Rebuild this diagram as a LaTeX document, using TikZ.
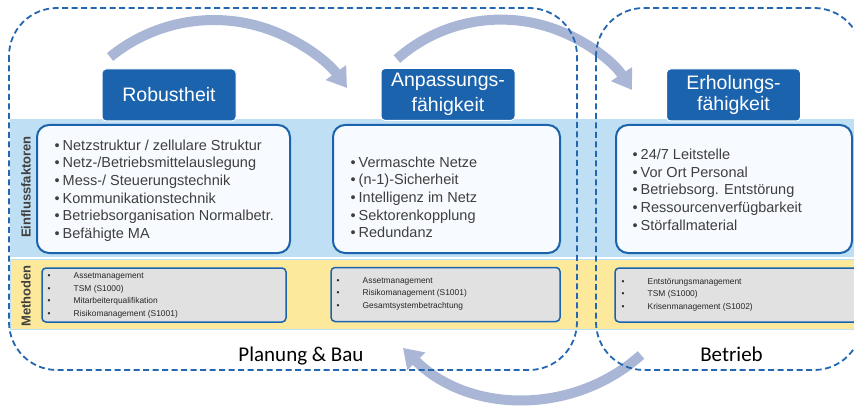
\documentclass[tikz,border=0pt]{standalone}
\usepackage{fontspec}
\setmainfont{Liberation Sans}
\newfontfamily\calibri{Carlito}
\usepackage{xcolor}
\usepackage{tikz}
\usetikzlibrary{positioning,arrows.meta,calc}
\definecolor{titel}{HTML}{1B63AD}
\definecolor{rahmen}{HTML}{2366B1}
\definecolor{bandblau}{HTML}{BEDFF4}
\definecolor{bandgelb}{HTML}{FDE99C}
\definecolor{kasten}{HTML}{F7FAFE}
\definecolor{methode}{HTML}{E1E1E1}
\definecolor{pfeil}{HTML}{A9B6D6}
\definecolor{ink}{HTML}{3F3F3F}

\tikzset{
  phase/.style={draw=rahmen,line width=1.8pt,dash pattern=on 6pt off 3.5pt,rounded corners=48pt},
  kopf/.style={draw=white,line width=1pt,fill=titel,rounded corners=4pt,text=white,align=center,
    minimum width=134pt,minimum height=52pt,font=\fontsize{19.5}{20.5}\selectfont},
  faktorbox/.style={draw=titel,line width=2pt,fill=kasten,rounded corners=12pt,minimum height=128pt},
  methodbox/.style={draw=titel,line width=1.5pt,fill=methode,rounded corners=4pt,minimum height=54pt},
  liste/.style={text=ink,align=left,inner sep=0pt,anchor=west,font=\fontsize{14.5}{17.6}\selectfont},
  kleinliste/.style={text=black!85,align=left,inner sep=0pt,anchor=west,font=\fontsize{8.4}{12.5}\selectfont},
  seitentitel/.style={text=ink,rotate=90,font=\bfseries\fontsize{13}{15}\selectfont},
  prozesspfeil/.style={draw=pfeil,line width=10pt,-{Triangle[width=24pt,length=19pt]}},
  phasentitel/.style={text=black,anchor=base,font=\calibri\fontsize{21}{25}\selectfont}
}
\newcommand{\fpkt}{\makebox[8pt][l]{\textbullet}}
\newcommand{\mpkt}{\makebox[26pt][l]{\textbullet}}

\begin{document}
\begin{tikzpicture}[x=1pt,y=-1pt]
  \useasboundingbox (0,0) rectangle (854,406);

  % Baender
  \fill[bandblau] (10,119) rectangle (860,256.5);
  \filldraw[fill=bandgelb,draw=bandblau,line width=1pt] (10,259.5) rectangle (860,329);

  % Pfeile
  \coordinate (b1m) at (213.9,184.3);
  \coordinate (b2m) at (501,176.7);
  \coordinate (b3m) at (525.7,226);
  \draw[prozesspfeil] (b1m) ++(-129.2:164.3) arc[start angle=-129.2,end angle=-35.9,radius=164.3];
  \draw[prozesspfeil] (b2m) ++(-131.5:157.1) arc[start angle=-131.5,end angle=-33.5,radius=157.1];
  \draw[prozesspfeil] (b3m) ++(48.2:173) arc[start angle=48.2,end angle=135.2,radius=173];

  % Phasen
  \draw[phase] (9,8) rectangle (577,370);
  \draw[phase] (596,8) rectangle (862,370);

  \node[kopf] (robust) at (169,95) {Robustheit};
  \node[kopf] (anpass) at (448,94.4) {Anpassungs-\\[4.5pt]fähigkeit};
  \node[kopf] (erhol) at (733.5,95) {Erholungs-\\fähigkeit};

  \node[seitentitel] (einfluss) at (26,187) {Einflussfaktoren};
  \node[seitentitel] (methoden) at (26,296) {Methoden};

  % Einflussfaktoren
  \node[faktorbox,minimum width=253pt] (fakt1) at (163.5,189) {};
  \node[faktorbox,minimum width=227pt] (fakt2) at (446.5,189) {};
  \node[faktorbox,minimum width=236pt] (fakt3) at (734,189) {};
  \node[liste] (fakt1text) at (54.5,190.5) {\fpkt Netzstruktur / zellulare Struktur\\
    \fpkt Netz-/Betriebsmittelauslegung\\ \fpkt Mess-/ Steuerungstechnik\\
    \fpkt Kommunikationstechnik\\ \fpkt Betriebsorganisation Normalbetr.\\ \fpkt Befähigte MA};
  \node[liste] (fakt2text) at (350.5,197.3) {\fpkt Vermaschte Netze\\ \fpkt (n-1)-Sicherheit\\
    \fpkt Intelligenz im Netz\\ \fpkt Sektorenkopplung\\ \fpkt Redundanz};
  \node[liste] (fakt3text) at (632.5,189.7) {\fpkt 24/7 Leitstelle\\ \fpkt Vor Ort Personal\\
    \fpkt Betriebsorg. Entstörung\\ \fpkt Ressourcenverfügbarkeit\\ \fpkt Störfallmaterial};

  % Methoden
  \node[methodbox,minimum width=244pt] (meth1) at (164,295) {};
  \node[methodbox,minimum width=229pt] (meth2) at (445.5,294.5) {};
  \node[methodbox,minimum width=255pt] (meth3) at (742.5,295) {};
  \node[kleinliste] (meth1text) at (47.5,295.4) {\mpkt Assetmanagement\\ \mpkt TSM (S1000)\\
    \mpkt Mitarbeiterqualifikation\\ \mpkt Risikomanagement (S1001)};
  \node[kleinliste] (meth2text) at (336.5,293.9) {\mpkt Assetmanagement\\
    \mpkt Risikomanagement (S1001)\\ \mpkt Gesamtsystembetrachtung};
  \node[kleinliste] (meth3text) at (621.5,294.6) {\mpkt Entstörungsmanagement\\
    \mpkt TSM (S1000)\\ \mpkt Krisenmanagement (S1002)};

  \node[phasentitel] (planbau) at (301,361) {Planung \& Bau};
  \node[phasentitel] (betrieb) at (731.5,361) {Betrieb};
\end{tikzpicture}
\end{document}
